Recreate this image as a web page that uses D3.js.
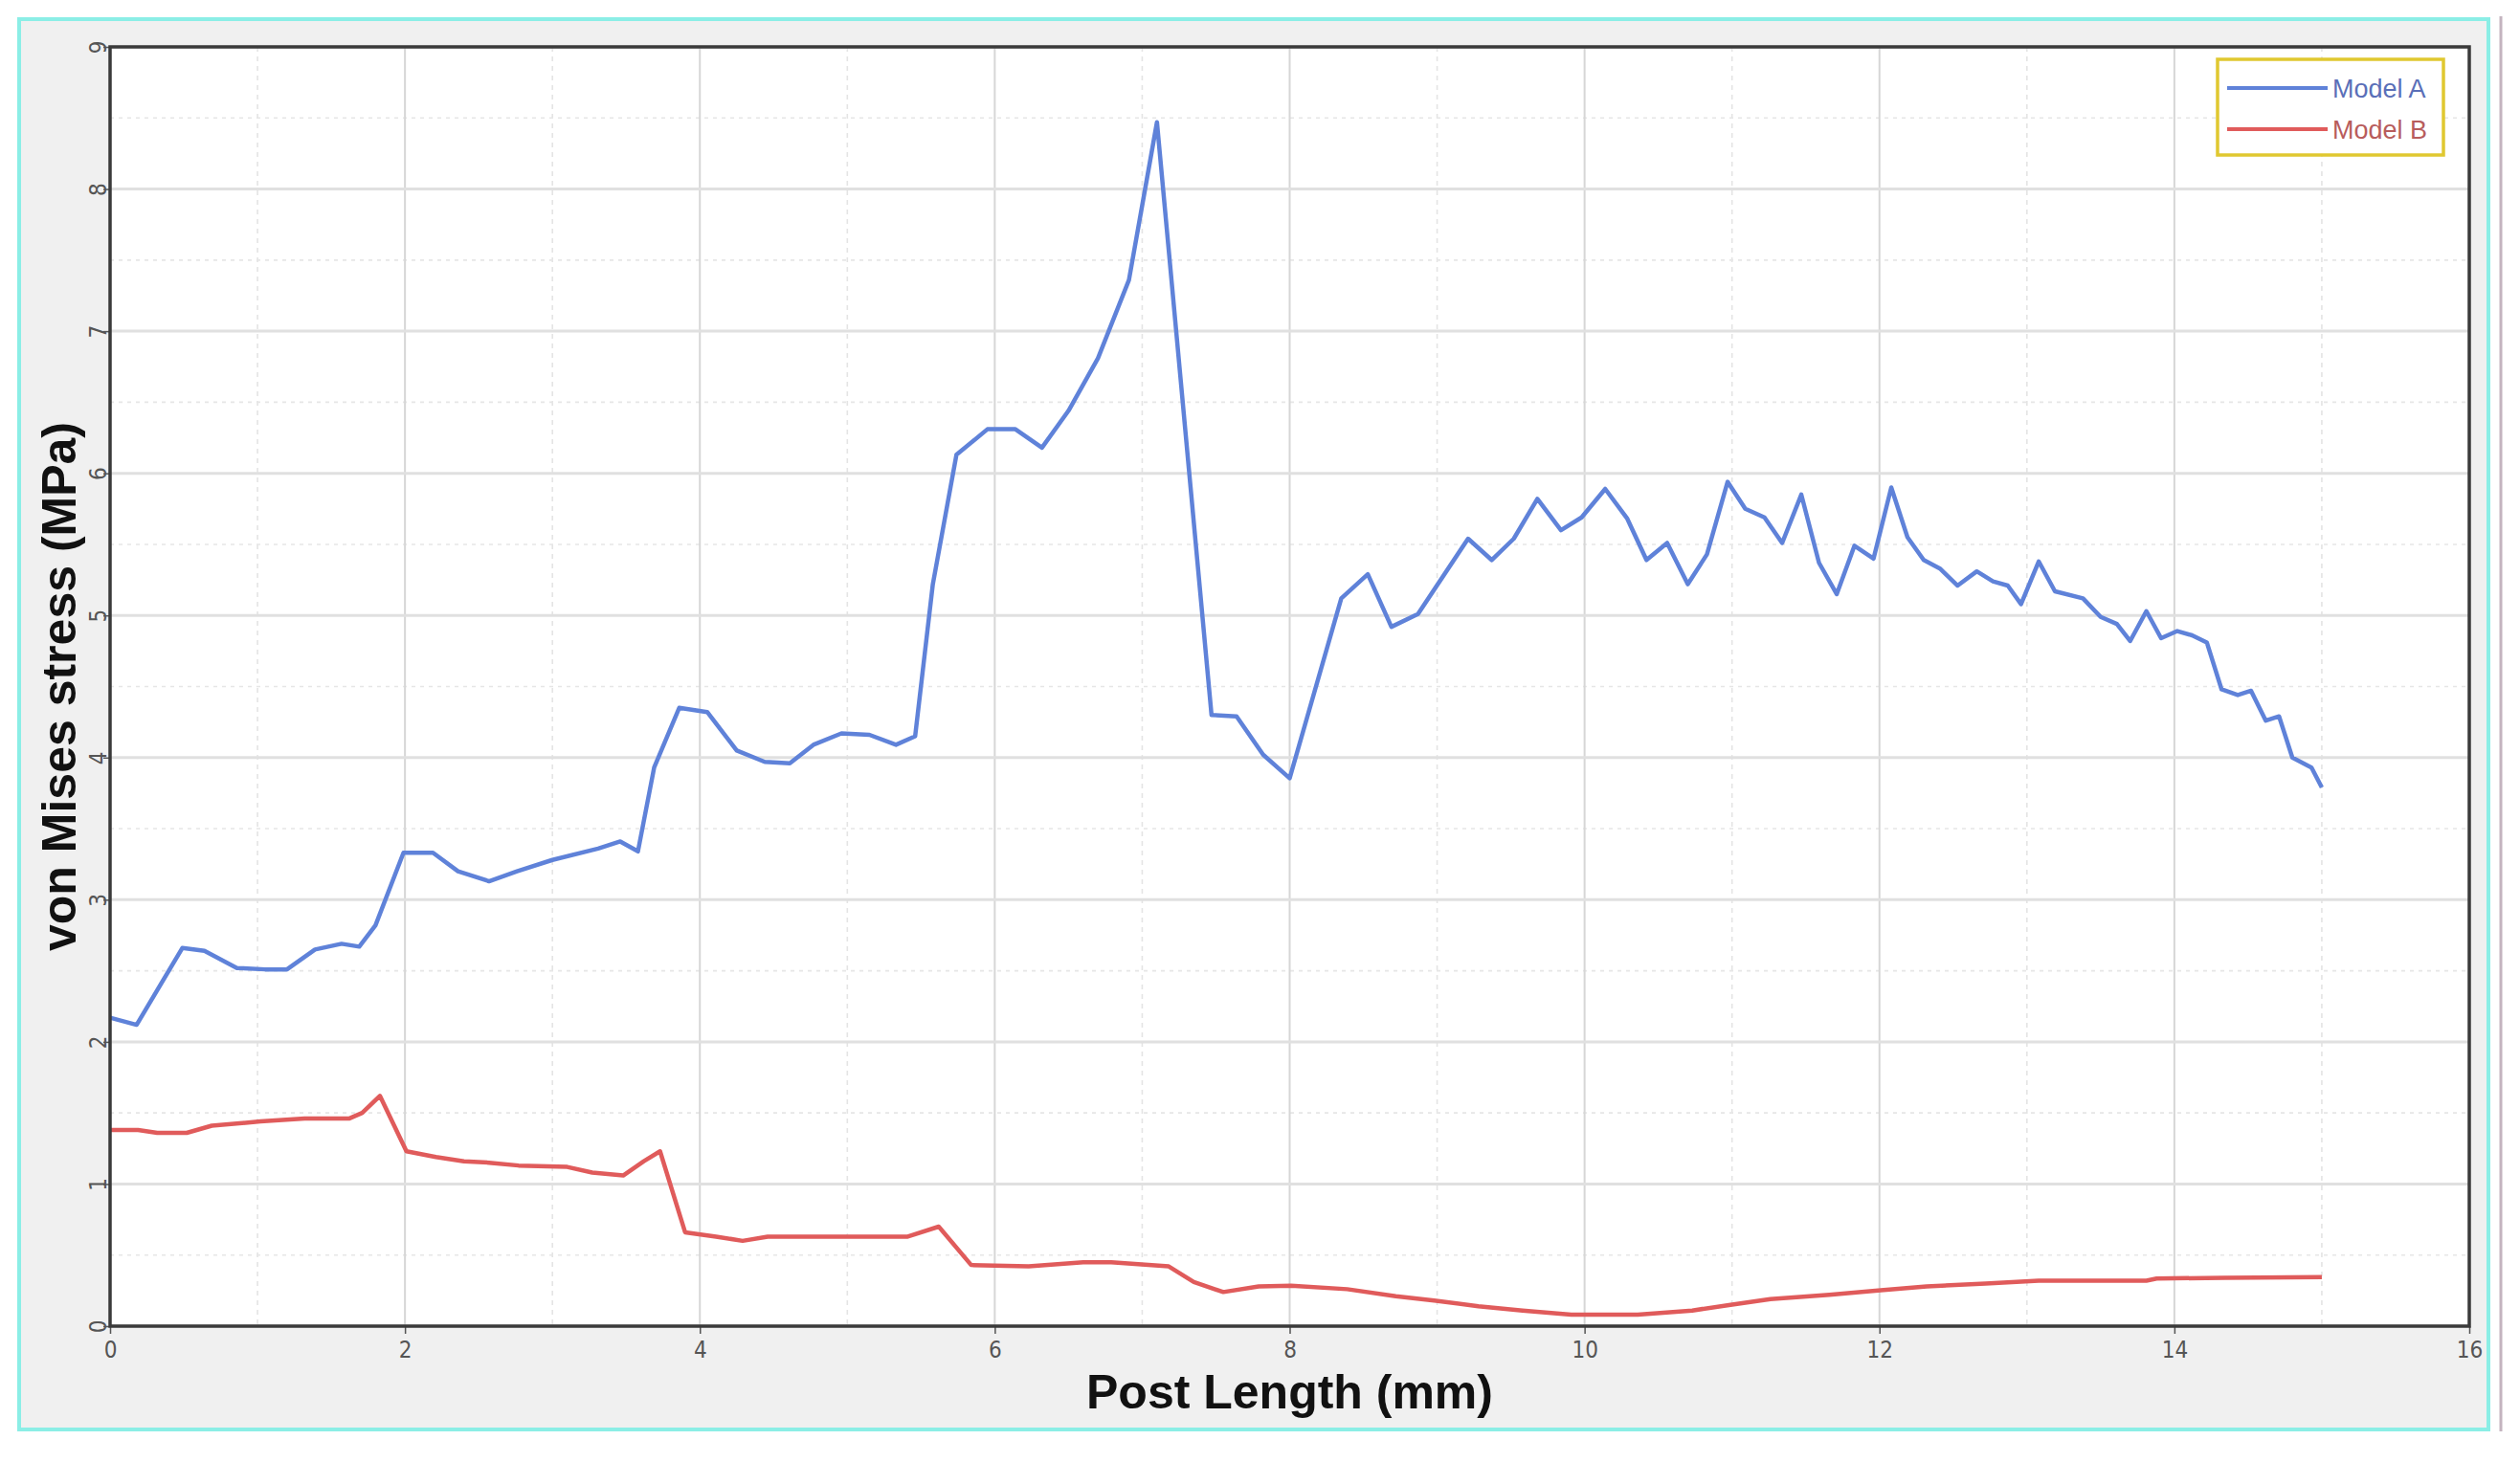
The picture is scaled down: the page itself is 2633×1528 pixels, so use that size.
<!DOCTYPE html>
<html>
<head>
<meta charset="utf-8">
<script src="https://cdn.jsdelivr.net/npm/d3@7"></script>
<style>
  html, body { margin: 0; padding: 0; background: #ffffff; }
  svg { display: block; }
</style>
</head>
<body>
<div id="chart"></div>
<script>
// ---- Data ----
const modelA_x = [0, 0.18, 0.49, 0.64, 0.86, 1.05, 1.2, 1.39, 1.57, 1.69, 1.80, 1.99, 2.19, 2.36, 2.57, 2.76, 3.0, 3.31, 3.46, 3.58, 3.69, 3.86, 4.05,
  4.25, 4.44, 4.61, 4.77, 4.96, 5.15, 5.33, 5.46, 5.58, 5.74, 5.95, 6.14, 6.32, 6.50, 6.70, 6.91, 7.10, 7.47, 7.64, 7.82, 8.0,
  8.35, 8.53, 8.69, 8.87, 9.21, 9.37, 9.52, 9.68, 9.84, 9.98, 10.14, 10.29, 10.42, 10.56, 10.70, 10.83, 10.97, 11.09, 11.22, 11.34,
  11.47, 11.59, 11.71, 11.83, 11.96, 12.08, 12.19, 12.30, 12.41, 12.53, 12.66, 12.77, 12.87, 12.96, 13.08, 13.19, 13.38, 13.50,
  13.61, 13.70, 13.81, 13.91, 14.02, 14.12, 14.22, 14.32, 14.43, 14.52, 14.62, 14.71, 14.80, 14.93, 15.0];
const modelA_y = [2.17, 2.12, 2.66, 2.64, 2.52, 2.51, 2.51, 2.65, 2.69, 2.67, 2.82, 3.33, 3.33, 3.20, 3.13, 3.20, 3.28, 3.36, 3.41, 3.34, 3.93, 4.35, 4.32,
  4.05, 3.97, 3.96, 4.09, 4.17, 4.16, 4.09, 4.15, 5.22, 6.13, 6.31, 6.31, 6.18, 6.44, 6.81, 7.36, 8.47, 4.30, 4.29, 4.02, 3.855,
  5.12, 5.29, 4.92, 5.01, 5.54, 5.39, 5.54, 5.82, 5.60, 5.69, 5.89, 5.68, 5.39, 5.51, 5.22, 5.43, 5.94, 5.75, 5.69, 5.51,
  5.85, 5.37, 5.15, 5.49, 5.40, 5.90, 5.55, 5.39, 5.33, 5.21, 5.31, 5.24, 5.21, 5.08, 5.38, 5.17, 5.12, 4.99,
  4.94, 4.82, 5.03, 4.84, 4.89, 4.86, 4.81, 4.48, 4.44, 4.47, 4.26, 4.29, 4.00, 3.93, 3.79];

const modelB_x = [0, 0.19, 0.32, 0.52, 0.69, 1.02, 1.32, 1.62, 1.71, 1.83, 2.01, 2.21, 2.40, 2.57, 2.77, 3.10, 3.27, 3.48, 3.62, 3.73,
  3.90, 4.11, 4.29, 4.46, 5.41, 5.62, 5.84, 6.23, 6.60, 6.79, 7.18, 7.35, 7.55, 7.79, 8.01, 8.39, 8.72, 8.98, 9.28, 9.58, 9.91,
  10.36, 10.73, 10.99, 11.26, 11.66, 11.99, 12.32, 12.72, 13.08, 13.81, 13.88, 14.34, 15.0];
const modelB_y = [1.38, 1.38, 1.36, 1.36, 1.41, 1.44, 1.46, 1.46, 1.50, 1.62, 1.23, 1.19, 1.16, 1.15, 1.13, 1.12, 1.08, 1.06, 1.16, 1.23,
  0.66, 0.63, 0.60, 0.63, 0.63, 0.70, 0.43, 0.42, 0.45, 0.45, 0.42, 0.31, 0.24, 0.28, 0.285, 0.26, 0.21, 0.18, 0.14, 0.11, 0.08,
  0.08, 0.11, 0.15, 0.19, 0.22, 0.25, 0.28, 0.30, 0.32, 0.32, 0.335, 0.34, 0.345];

const seriesNames = ["Model A", "Model B"];
const xTicks = [0, 2, 4, 6, 8, 10, 12, 14, 16];
const xMinorTicks = [1, 3, 5, 7, 9, 11, 13, 15];
const yTicks = [0, 1, 2, 3, 4, 5, 6, 7, 8, 9];
const yMinorTicks = [0.5, 1.5, 2.5, 3.5, 4.5, 5.5, 6.5, 7.5, 8.5];
const xTitle = "Post Length (mm)";
const yTitle = "von Mises stress (MPa)";

// ---- Layout ----
const W = 2633, H = 1528;
const plot = { left: 115, right: 2580, top: 49, bottom: 1386 };
const colors = { A: "#5f82d9", B: "#e05b5b" };

const svg = d3.select("#chart").append("svg")
  .attr("width", W).attr("height", H)
  .attr("viewBox", `0 0 ${W} ${H}`);

svg.append("rect").attr("width", W).attr("height", H).attr("fill", "#ffffff");

// Outer panel
svg.append("rect")
  .attr("x", 20).attr("y", 20).attr("width", 2580).attr("height", 1474)
  .attr("fill", "#f0f0f0").attr("stroke", "#8beee6").attr("stroke-width", 4);
svg.append("line")
  .attr("x1", 2613).attr("x2", 2613).attr("y1", 17).attr("y2", 1496)
  .attr("stroke", "#c4b4bf").attr("stroke-width", 3);

const x = d3.scaleLinear().domain([0, 16]).range([plot.left, plot.right]);
const y = d3.scaleLinear().domain([0, 9]).range([plot.bottom, plot.top]);

// Plot background
svg.append("rect")
  .attr("x", plot.left).attr("y", plot.top)
  .attr("width", plot.right - plot.left).attr("height", plot.bottom - plot.top)
  .attr("fill", "#ffffff");

const grid = svg.append("g");
// minor grid (dashed)
grid.selectAll(".xminor").data(xMinorTicks).join("line")
  .attr("x1", d => x(d)).attr("x2", d => x(d))
  .attr("y1", plot.top).attr("y2", plot.bottom)
  .attr("stroke", "#e4e4e4").attr("stroke-width", 1.6).attr("stroke-dasharray", "5,5");
grid.selectAll(".yminor").data(yMinorTicks).join("line")
  .attr("x1", plot.left).attr("x2", plot.right)
  .attr("y1", d => y(d)).attr("y2", d => y(d))
  .attr("stroke", "#e6e6e6").attr("stroke-width", 1.6).attr("stroke-dasharray", "4,5");
// major grid
grid.selectAll(".xmajor").data(xTicks).join("line")
  .attr("x1", d => x(d)).attr("x2", d => x(d))
  .attr("y1", plot.top).attr("y2", plot.bottom)
  .attr("stroke", "#d6d6d6").attr("stroke-width", 2);
grid.selectAll(".ymajor").data(yTicks).join("line")
  .attr("x1", plot.left).attr("x2", plot.right)
  .attr("y1", d => y(d)).attr("y2", d => y(d))
  .attr("stroke", "#e0e0e0").attr("stroke-width", 3);

// Axes
const tickFont = "'Liberation Sans Narrow', 'DejaVu Sans Condensed', 'Liberation Sans', sans-serif";
const xAxis = svg.append("g")
  .attr("transform", `translate(0,${plot.bottom})`)
  .call(d3.axisBottom(x).tickValues(xTicks).tickSize(8).tickPadding(8).tickFormat(d3.format("d")));
xAxis.select(".domain").remove();
xAxis.selectAll(".tick line").attr("stroke", "#555").attr("stroke-width", 1.5);
xAxis.selectAll(".tick text")
  .attr("fill", "#555").attr("font-size", 24).attr("font-family", tickFont);

const yAxis = svg.append("g")
  .attr("transform", `translate(${plot.left},0)`)
  .call(d3.axisLeft(y).tickValues(yTicks).tickSize(7).tickPadding(4).tickFormat(d3.format("d")));
yAxis.select(".domain").remove();
yAxis.selectAll(".tick line").attr("stroke", "#555").attr("stroke-width", 1.5);
yAxis.selectAll(".tick text")
  .attr("fill", "#555").attr("font-size", 24).attr("font-family", tickFont)
  .attr("dy", null)
  .attr("text-anchor", "middle").attr("dominant-baseline", "central")
  .attr("transform", "rotate(-90)")
  .attr("x", 0).attr("y", -12);

// Lines
const line = d3.line().x(d => x(d[0])).y(d => y(d[1]));
const dataA = modelA_x.map((v, i) => [v, modelA_y[i]]);
const dataB = modelB_x.map((v, i) => [v, modelB_y[i]]);

svg.append("path").datum(dataB).attr("d", line)
  .attr("fill", "none").attr("stroke", colors.B).attr("stroke-width", 4.5)
  .attr("stroke-linejoin", "round");
svg.append("path").datum(dataA).attr("d", line)
  .attr("fill", "none").attr("stroke", colors.A).attr("stroke-width", 4.5)
  .attr("stroke-linejoin", "round");

// Plot frame
svg.append("rect")
  .attr("x", plot.left).attr("y", plot.top)
  .attr("width", plot.right - plot.left).attr("height", plot.bottom - plot.top)
  .attr("fill", "none").attr("stroke", "#3a3a3a").attr("stroke-width", 3.5);

// Titles
svg.append("text")
  .attr("x", (plot.left + plot.right) / 2).attr("y", 1472)
  .attr("text-anchor", "middle")
  .attr("font-family", "'Liberation Sans', Arial, sans-serif")
  .attr("font-weight", "bold").attr("font-size", 50).attr("fill", "#111")
  .text(xTitle);
svg.append("text")
  .attr("transform", `translate(79, ${(plot.top + plot.bottom) / 2}) rotate(-90)`)
  .attr("text-anchor", "middle")
  .attr("font-family", "'Liberation Sans', Arial, sans-serif")
  .attr("font-weight", "bold").attr("font-size", 50).attr("fill", "#111")
  .text(yTitle);

// Legend
const lg = svg.append("g");
lg.append("rect")
  .attr("x", 2317).attr("y", 62).attr("width", 236).attr("height", 100)
  .attr("fill", "#ffffff").attr("stroke", "#e0c830").attr("stroke-width", 3.5);
const legendItems = [
  { name: seriesNames[0], color: colors.A, text: "#5a6fb8" },
  { name: seriesNames[1], color: colors.B, text: "#b85c5c" }
];
legendItems.forEach((it, i) => {
  const cy = 92 + i * 43;
  lg.append("line").attr("x1", 2327).attr("x2", 2432).attr("y1", cy).attr("y2", cy)
    .attr("stroke", it.color).attr("stroke-width", 4);
  lg.append("text").attr("x", 2437).attr("y", cy + 10)
    .attr("font-family", "'Liberation Sans', Arial, sans-serif")
    .attr("font-size", 27).attr("fill", it.text)
    .text(it.name);
});
</script>
</body>
</html>
